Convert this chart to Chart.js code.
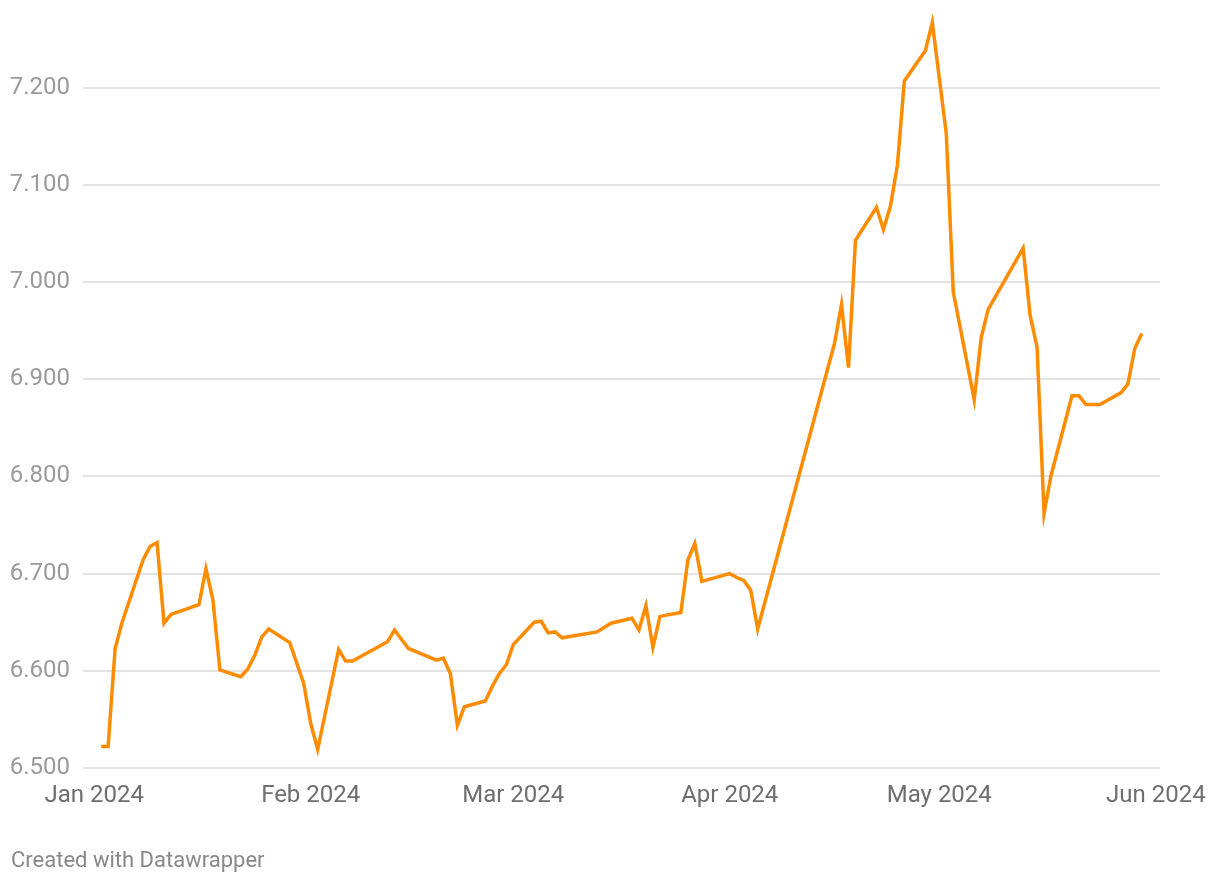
<!DOCTYPE html>
<html>
<head>
<meta charset="utf-8">
<script src="https://cdn.jsdelivr.net/npm/chart.js@4"></script>
<style>
    html, body { margin: 0; padding: 0; background: #fff; }
    .wrap { position: relative; width: 1220px; height: 884px; }
    .footer {
        position: absolute; left: 11px; top: 847px;
        font: 22px Roboto, sans-serif; color: #888;
    }
</style>
</head>
<body>
<div class="wrap">
    <canvas id="myChart" width="1220" height="884"></canvas>
    <div class="footer">Created with Datawrapper</div>
</div>
<script>
var fechas = [
    "2024-01-02", "2024-01-03", "2024-01-04", "2024-01-05", "2024-01-08", "2024-01-09",
    "2024-01-10", "2024-01-11", "2024-01-12", "2024-01-16", "2024-01-17", "2024-01-18",
    "2024-01-19", "2024-01-22", "2024-01-23", "2024-01-24", "2024-01-25", "2024-01-26",
    "2024-01-29", "2024-01-31", "2024-02-01", "2024-02-02", "2024-02-05", "2024-02-06",
    "2024-02-07", "2024-02-12", "2024-02-13", "2024-02-15", "2024-02-16", "2024-02-19",
    "2024-02-20", "2024-02-21", "2024-02-22", "2024-02-23", "2024-02-26", "2024-02-27",
    "2024-02-28", "2024-02-29", "2024-03-01", "2024-03-04", "2024-03-05", "2024-03-06",
    "2024-03-07", "2024-03-08", "2024-03-13", "2024-03-15", "2024-03-18", "2024-03-19",
    "2024-03-20", "2024-03-21", "2024-03-22", "2024-03-25", "2024-03-26", "2024-03-27",
    "2024-03-28", "2024-04-01", "2024-04-02", "2024-04-03", "2024-04-04", "2024-04-05",
    "2024-04-16", "2024-04-17", "2024-04-18", "2024-04-19", "2024-04-22", "2024-04-23",
    "2024-04-24", "2024-04-25", "2024-04-26", "2024-04-29", "2024-04-30", "2024-05-02",
    "2024-05-03", "2024-05-06", "2024-05-07", "2024-05-08", "2024-05-13", "2024-05-14",
    "2024-05-15", "2024-05-16", "2024-05-17", "2024-05-20", "2024-05-21", "2024-05-22",
    "2024-05-24", "2024-05-27", "2024-05-28", "2024-05-29", "2024-05-30"
];

var valores = [
    6.522, 6.522, 6.623, 6.650, 6.714, 6.728,
    6.732, 6.649, 6.658, 6.668, 6.705, 6.673,
    6.601, 6.594, 6.602, 6.616, 6.635, 6.643,
    6.629, 6.587, 6.546, 6.519, 6.622, 6.610,
    6.610, 6.630, 6.642, 6.623, 6.620, 6.611,
    6.613, 6.597, 6.544, 6.563, 6.569, 6.584,
    6.597, 6.606, 6.627, 6.650, 6.651, 6.639,
    6.640, 6.634, 6.640, 6.649, 6.654, 6.642,
    6.667, 6.624, 6.656, 6.660, 6.714, 6.731,
    6.692, 6.700, 6.696, 6.693, 6.683, 6.643,
    6.937, 6.977, 6.912, 7.043, 7.077, 7.054,
    7.078, 7.120, 7.207, 7.238, 7.267, 7.153,
    6.990, 6.879, 6.943, 6.972, 7.035, 6.966,
    6.933, 6.762, 6.801, 6.883, 6.883, 6.874,
    6.874, 6.886, 6.895, 6.932, 6.947
];

var mesesFechas = ["2024-01-01", "2024-02-01", "2024-03-01", "2024-04-01", "2024-05-01", "2024-06-01"];
var mesesEtiquetas = ["Jan 2024", "Feb 2024", "Mar 2024", "Apr 2024", "May 2024", "Jun 2024"];
var yTicks = [6.5, 6.6, 6.7, 6.8, 6.9, 7.0, 7.1, 7.2];

// dias desde el 1 de enero
function dia(f) {
    var p = f.split("-");
    return (Date.UTC(+p[0], +p[1] - 1, +p[2]) - Date.UTC(2024, 0, 1)) / 86400000;
}

document.addEventListener("DOMContentLoaded", iniciar);

function iniciar() {
    var canvas = document.getElementById("myChart");
    if (!canvas) return;
    crearGrafico(canvas);
}

function crearGrafico(canvas) {
    var puntos = fechas.map(function (f, i) {
        return { x: dia(f), y: valores[i] };
    });
    var mesesDias = mesesFechas.map(dia);

    var chart = new Chart(canvas, {
        type: "line",
        data: {
            datasets: [{
                data: puntos,
                borderColor: "#ff8c00",
                borderWidth: 3.5,
                pointRadius: 0,
                tension: 0,
                fill: false,
                clip: false
            }]
        },
        options: {
            responsive: false,
            animation: false,
            layout: { padding: { top: 10, right: 60, left: 0, bottom: 0 } },
            plugins: { legend: { display: false }, tooltip: { enabled: false } },
            scales: {
                x: {
                    type: "linear",
                    min: -1.6,
                    max: 152.6,
                    grid: { display: false, drawTicks: false },
                    border: { display: false },
                    afterBuildTicks: function (s) {
                        s.ticks = mesesDias.map(function (v) { return { value: v }; });
                    },
                    afterFit: function (s) { s.height = 116; },
                    ticks: {
                        autoSkip: false,
                        maxRotation: 0,
                        padding: 14,
                        color: "#6e6e6e",
                        font: { family: "Roboto", size: 24 },
                        callback: function (v, i) { return mesesEtiquetas[i]; }
                    }
                },
                y: {
                    min: 6.5,
                    max: 7.28,
                    grid: { color: "#e3e3e3", lineWidth: 2, drawTicks: false },
                    border: { display: false },
                    afterBuildTicks: function (s) {
                        s.ticks = yTicks.map(function (v) { return { value: v }; });
                    },
                    afterFit: function (s) {
                        s.width = 83;
                        s.paddingTop = 0;
                        s.paddingBottom = 0;
                    },
                    ticks: {
                        padding: 13,
                        color: "#9a9a9a",
                        font: { family: "Roboto", size: 24 },
                        callback: function (v) { return v.toFixed(3); }
                    }
                }
            }
        }
    });

    return chart;
}
</script>
</body>
</html>
